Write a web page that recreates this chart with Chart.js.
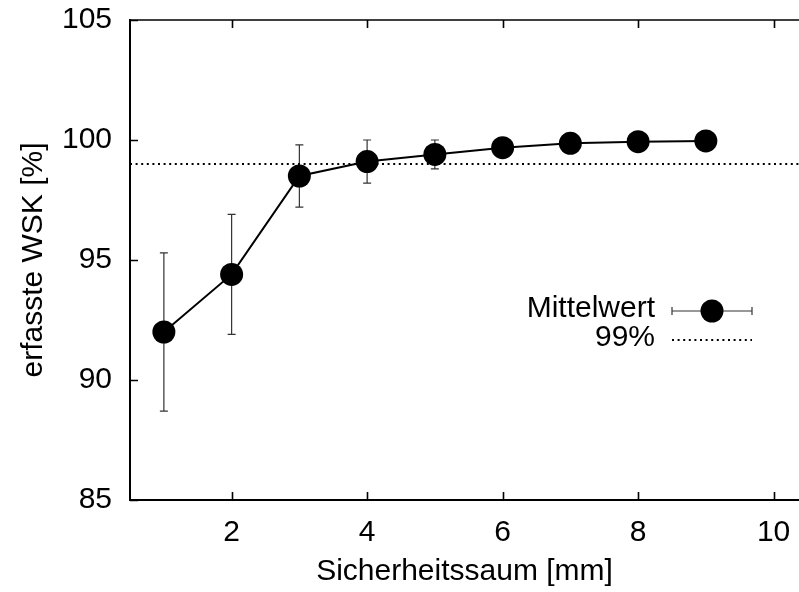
<!DOCTYPE html>
<html><head><meta charset="utf-8">
<script src="https://cdn.jsdelivr.net/npm/chart.js@4/dist/chart.umd.min.js"></script>
<style>html,body{margin:0;padding:0;background:#fff;overflow:hidden}#wrap{width:799px;height:592px;position:relative}canvas{display:block}</style>
</head><body><div id="wrap"><canvas id="c" width="799" height="592"></canvas></div>
<script>
const margins = [1, 2, 3, 4, 5, 6, 7, 8, 9];
const meanValues = [92.0, 94.4, 98.5, 99.1, 99.4, 99.68, 99.86, 99.93, 99.96];
const errLow = [88.7, 91.9, 97.2, 98.2, 98.8, 99.5, 99.75, 99.85, 99.9];
const errHigh = [95.3, 96.9, 99.8, 100.0, 100.0, 99.85, 99.97, 100.0, 100.0];
const thresholdValue = 99;
const xTicks = [2, 4, 6, 8, 10];
const yTicks = [85, 90, 95, 100, 105];
const xMin = 0.5, xMax = 10.375, yMin = 85, yMax = 105;
const seriesLabel = 'Mittelwert';
const thresholdLabel = '99%';
const xTitle = 'Sicherheitssaum [mm]';
const yTitle = 'erfasste WSK [%]';

const FONT = '"Liberation Sans", Arial, Helvetica, sans-serif';
const FS = 30;

const errorBarPlugin = {
  id: 'errorBars',
  beforeDatasetsDraw(chart) {
    const {ctx, scales: {x, y}} = chart;
    ctx.save();
    ctx.strokeStyle = '#333';
    ctx.lineWidth = 1.2;
    for (let i = 0; i < margins.length; i++) {
      const px = x.getPixelForValue(margins[i]);
      const top = y.getPixelForValue(errHigh[i]);
      const bot = y.getPixelForValue(errLow[i]);
      ctx.beginPath();
      ctx.moveTo(px, top); ctx.lineTo(px, bot);
      ctx.moveTo(px - 4, top); ctx.lineTo(px + 4, top);
      ctx.moveTo(px - 4, bot); ctx.lineTo(px + 4, bot);
      ctx.stroke();
    }
    ctx.restore();
  }
};

const frameTicksPlugin = {
  id: 'frameTicks',
  afterDraw(chart) {
    const {ctx, chartArea: a, scales: {x, y}} = chart;
    ctx.save();
    ctx.strokeStyle = '#000';
    ctx.lineWidth = 1.6;
    ctx.beginPath();
    ctx.moveTo(a.left, a.top); ctx.lineTo(a.right, a.top);
    const L = 8;
    xTicks.forEach(v => {
      const px = Math.round(x.getPixelForValue(v)) + 0.5;
      ctx.moveTo(px, a.bottom); ctx.lineTo(px, a.bottom - L);
      ctx.moveTo(px, a.top); ctx.lineTo(px, a.top + L);
    });
    yTicks.forEach(v => {
      const py = Math.round(y.getPixelForValue(v)) + 0.5;
      ctx.moveTo(a.left, py); ctx.lineTo(a.left + L, py);
    });
    ctx.stroke();

    // legend
    ctx.fillStyle = '#000';
    ctx.font = FS + 'px ' + FONT;
    ctx.textAlign = 'right';
    ctx.textBaseline = 'middle';
    const tx = 655, y1 = 309, y2 = 338;
    ctx.fillText(seriesLabel, tx, y1);
    ctx.fillText(thresholdLabel, tx, y2);
    const sx0 = 672, sx1 = 752, sc = 712;
    ctx.strokeStyle = '#333';
    ctx.lineWidth = 1.2;
    ctx.beginPath();
    ctx.moveTo(sx0, y1 + 2); ctx.lineTo(sx1, y1 + 2);
    ctx.moveTo(sx0, y1 - 2); ctx.lineTo(sx0, y1 + 6);
    ctx.moveTo(sx1, y1 - 2); ctx.lineTo(sx1, y1 + 6);
    ctx.stroke();
    ctx.beginPath();
    ctx.arc(sc, y1 + 2, 11.5, 0, Math.PI * 2);
    ctx.fill();
    ctx.strokeStyle = '#000';
    ctx.lineWidth = 2;
    ctx.setLineDash([2, 3.6]);
    ctx.beginPath();
    ctx.moveTo(sx0, y2 + 2); ctx.lineTo(sx1, y2 + 2);
    ctx.stroke();
    ctx.restore();
  }
};

new Chart(document.getElementById('c'), {
  type: 'line',
  data: {
    datasets: [
      {
        label: seriesLabel,
        data: margins.map((m, i) => ({x: m, y: meanValues[i]})),
        borderColor: '#000',
        borderWidth: 2,
        backgroundColor: '#000',
        pointRadius: 11.5,
        pointHoverRadius: 11.5,
        pointBackgroundColor: '#000',
        pointBorderWidth: 0,
        tension: 0,
        clip: false,
        order: 0
      },
      {
        label: thresholdLabel,
        data: [{x: xMin, y: thresholdValue}, {x: xMax, y: thresholdValue}],
        borderColor: '#000',
        borderWidth: 2,
        borderDash: [2, 3.6],
        pointRadius: 0,
        order: 1
      }
    ]
  },
  options: {
    responsive: false,
    animation: false,
    devicePixelRatio: 1,
    layout: {autoPadding: false, padding: {top: 20, left: 0, right: 0, bottom: 0}},
    plugins: {legend: {display: false}, tooltip: {enabled: false}},
    scales: {
      x: {
        type: 'linear', min: xMin, max: xMax,
        afterBuildTicks: s => { s.ticks = xTicks.map(v => ({value: v})); },
        afterFit: s => { s.height = 92; s.paddingLeft = 0; s.paddingRight = 0; },
        grid: {display: false, drawTicks: false, tickLength: 0},
        border: {display: true, color: '#000', width: 2},
        ticks: {color: '#000', font: {family: FONT, size: FS}, padding: 15, maxRotation: 0, autoSkip: false},
        title: {display: true, text: xTitle, color: '#000', font: {family: FONT, size: FS}, padding: {top: 0, bottom: 2}}
      },
      y: {
        type: 'linear', min: yMin, max: yMax,
        afterBuildTicks: s => { s.ticks = yTicks.map(v => ({value: v})); },
        afterFit: s => { s.width = 130; s.paddingTop = 0; s.paddingBottom = 0; },
        grid: {display: false, drawTicks: false, tickLength: 0},
        border: {display: true, color: '#000', width: 2},
        ticks: {color: '#000', font: {family: FONT, size: FS}, padding: 18},
        title: {display: true, text: yTitle, color: '#000', font: {family: FONT, size: FS}, padding: {top: 16, bottom: 0}}
      }
    }
  },
  plugins: [errorBarPlugin, frameTicksPlugin]
});
</script>
</body></html>
